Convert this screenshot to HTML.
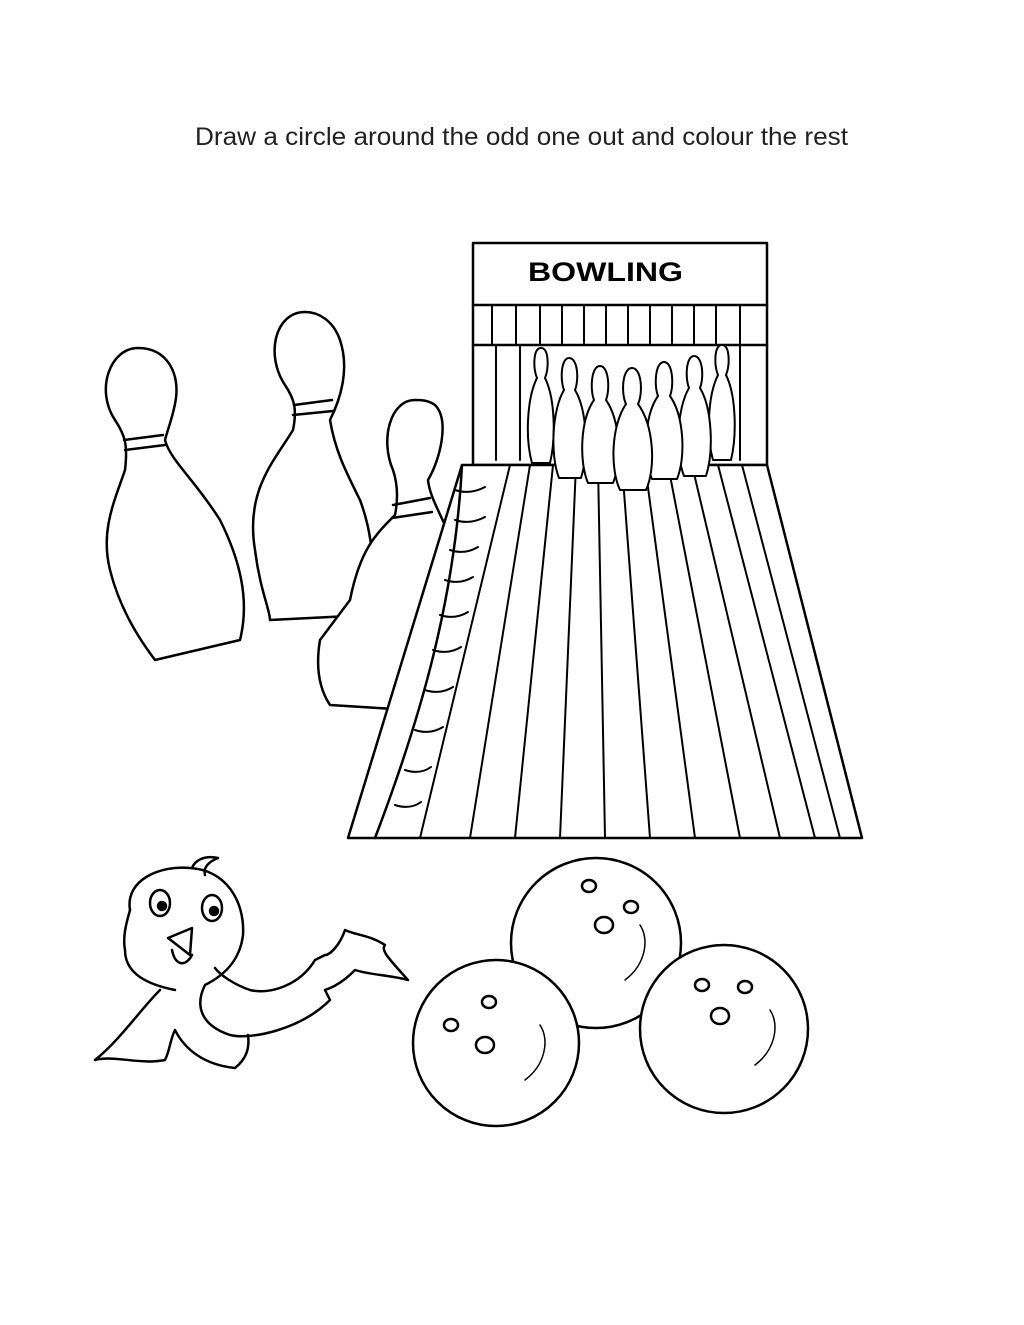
<!DOCTYPE html>
<html><head><meta charset="utf-8"><style>
html,body{margin:0;padding:0;background:#fff;}
svg{display:block;}
</style></head><body>
<svg width="1024" height="1325" viewBox="0 0 1024 1325" xmlns="http://www.w3.org/2000/svg">
<rect width="1024" height="1325" fill="#fff"/>
<text x="195" y="145" font-family="Liberation Sans, sans-serif" font-size="25" textLength="653" lengthAdjust="spacingAndGlyphs" fill="#222">Draw a circle around the odd one out and colour the rest</text>
<g fill="none" stroke="#000" stroke-width="2.5" stroke-linejoin="round" stroke-linecap="round">
<!-- big pins -->
<path fill="#fff" d="M138,348 C110,348 95,390 115,420 C125,435 128,445 125,470 C115,500 100,530 110,570 C120,610 140,640 155,660 L240,640 C250,600 240,560 220,520 C195,480 170,460 165,440 C170,420 185,390 170,365 C162,352 150,348 138,348 Z"/>
<path d="M124,440 L163,435 M125,450 L165,445"/>
<path fill="#fff" d="M305,312 C275,312 265,355 285,385 C295,400 297,410 293,430 C275,460 245,490 255,550 C260,590 270,610 270,620 L370,615 C375,580 375,540 360,500 C345,470 335,450 330,420 C340,400 350,370 340,340 C333,320 318,312 305,312 Z"/>
<path d="M294,405 L332,400 M293,415 L333,411"/>
<path fill="#fff" d="M415,400 C390,400 380,440 393,470 C398,485 398,500 395,515 C375,535 360,550 350,600 L320,640 C315,670 320,690 330,705 L410,710 L440,620 L455,550 C445,520 430,500 428,480 C440,460 450,420 435,405 C428,400 421,400 415,400 Z"/>
<path d="M393,505 L430,498 M392,518 L432,512"/>
<!-- sign -->
<rect x="473" y="243" width="294" height="222" fill="#fff"/>
<line x1="473" y1="305" x2="767" y2="305"/>
<line x1="473" y1="345" x2="767" y2="345"/>
<g stroke-width="2">
<line x1="492" y1="305" x2="492" y2="345"/><line x1="516" y1="305" x2="516" y2="345"/>
<line x1="540" y1="305" x2="540" y2="345"/><line x1="562" y1="305" x2="562" y2="345"/>
<line x1="584" y1="305" x2="584" y2="345"/><line x1="606" y1="305" x2="606" y2="345"/>
<line x1="628" y1="305" x2="628" y2="345"/><line x1="650" y1="305" x2="650" y2="345"/>
<line x1="672" y1="305" x2="672" y2="345"/><line x1="694" y1="305" x2="694" y2="345"/>
<line x1="716" y1="305" x2="716" y2="345"/><line x1="740" y1="305" x2="740" y2="345"/>
<line x1="496" y1="345" x2="496" y2="460"/><line x1="520" y1="345" x2="520" y2="460"/>
<line x1="740" y1="345" x2="740" y2="460"/>
</g>
<!-- lane -->
<path d="M462,465 L767,465 L862,838 L348,838 Z" fill="#fff"/>
<path d="M462,465 C455,600 420,720 375,838"/>
<g stroke-width="2">
<line x1="510" y1="465" x2="420" y2="838"/><line x1="530" y1="465" x2="470" y2="838"/>
<line x1="553" y1="465" x2="515" y2="838"/><line x1="576" y1="465" x2="560" y2="838"/>
<line x1="598" y1="465" x2="605" y2="838"/><line x1="622" y1="465" x2="650" y2="838"/>
<line x1="645" y1="465" x2="695" y2="838"/><line x1="668" y1="465" x2="740" y2="838"/>
<line x1="692" y1="465" x2="780" y2="838"/><line x1="718" y1="465" x2="815" y2="838"/>
<line x1="742" y1="465" x2="840" y2="838"/>
<path d="M455,490 q15,5 30,-3 M455,520 q15,5 30,-3 M450,550 q15,5 28,-3 M445,580 q15,5 28,-3 M440,615 q15,5 28,-3 M433,650 q15,5 28,-3 M425,690 q15,5 28,-3 M415,730 q15,5 28,-3 M405,770 q15,5 26,-3 M395,805 q15,5 26,-3"/>
</g>
<!-- small pins -->
<g fill="#fff" stroke-width="2">
<path d="M541,348 c-8,0 -8,20 -4,30 c-10,20 -12,60 -5,85 l18,0 c6,-25 5,-65 -5,-85 c4,-10 4,-30 -4,-30z"/>
<path d="M722,345 c-8,0 -8,20 -4,30 c-10,20 -12,60 -5,85 l18,0 c6,-25 5,-65 -5,-85 c4,-10 4,-30 -4,-30z"/>
<path d="M569,358 c-8,0 -9,22 -5,32 c-12,20 -14,65 -5,88 l22,0 c8,-25 6,-68 -6,-88 c4,-10 3,-32 -6,-32z"/>
<path d="M694,356 c-8,0 -9,22 -5,32 c-12,20 -14,65 -5,88 l22,0 c8,-25 6,-68 -6,-88 c4,-10 3,-32 -6,-32z"/>
<path d="M600,366 c-9,0 -10,24 -6,34 c-14,20 -15,62 -6,83 l25,0 c9,-22 7,-63 -7,-83 c4,-10 3,-34 -6,-34z"/>
<path d="M664,362 c-9,0 -10,24 -6,34 c-14,20 -15,62 -6,83 l25,0 c9,-22 7,-63 -7,-83 c4,-10 3,-34 -6,-34z"/>
<path d="M632,368 c-10,0 -11,26 -6,36 c-15,22 -16,65 -6,86 l26,0 c10,-22 8,-64 -8,-86 c5,-10 4,-36 -6,-36z"/>
</g>
<!-- bird -->
<path fill="#fff" d="M130,910 C125,880 160,865 190,868 C225,870 245,900 243,935 C240,960 225,975 205,985 C195,1005 200,1025 230,1035 C250,1040 300,1030 330,1000 L325,990 C340,985 350,975 355,970 C370,975 390,975 408,980 C390,960 380,950 385,945 C370,935 355,935 345,930 C340,945 330,955 325,955 L315,960 C300,985 270,995 250,990 C235,985 220,975 215,968"/>
<path fill="#fff" d="M175,990 C150,985 125,975 125,950 C122,935 128,918 130,910"/>
<path d="M160,990 C140,1010 120,1040 95,1060 C115,1055 140,1065 165,1060 C170,1050 170,1040 175,1030 C185,1050 205,1065 235,1068 C245,1060 250,1050 248,1035"/>
<path d="M192,868 C195,860 205,855 218,858 C208,862 203,868 205,875"/>
<ellipse cx="160" cy="903" rx="10" ry="13"/><circle cx="162" cy="906" r="4" fill="#000"/>
<ellipse cx="212" cy="908" rx="10" ry="13"/><circle cx="214" cy="911" r="4" fill="#000"/>
<path fill="#fff" d="M168,938 L192,928 L190,955 Z"/>
<path d="M172,950 C175,965 185,968 192,955"/>
<!-- balls -->
<circle cx="596" cy="943" r="85" fill="#fff"/>
<circle cx="496" cy="1043" r="83" fill="#fff"/>
<circle cx="724" cy="1029" r="84" fill="#fff"/>
<path d="M640,925 c10,15 5,40 -15,55 M540,1025 c10,15 5,40 -15,55 M770,1010 c10,15 5,40 -15,55" stroke-width="1.5"/>
<ellipse cx="589" cy="886" rx="7" ry="6"/><ellipse cx="631" cy="907" rx="7" ry="6"/><ellipse cx="604" cy="925" rx="9" ry="8"/>
<ellipse cx="489" cy="1002" rx="7" ry="6"/><ellipse cx="451" cy="1025" rx="7" ry="6"/><ellipse cx="485" cy="1045" rx="9" ry="8"/>
<ellipse cx="702" cy="985" rx="7" ry="6"/><ellipse cx="745" cy="987" rx="7" ry="6"/><ellipse cx="720" cy="1016" rx="9" ry="8"/>
</g>
<text x="528" y="281" font-family="Liberation Sans, sans-serif" font-weight="bold" font-size="27" textLength="155" lengthAdjust="spacingAndGlyphs" fill="#000">BOWLING</text>
</svg>
</body></html>
